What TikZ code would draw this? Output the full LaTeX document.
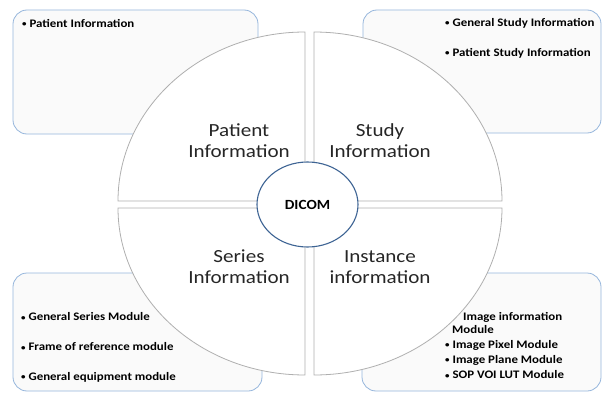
\documentclass[tikz,border=0pt]{standalone}
\usepackage{fontspec}
\setmainfont{Carlito}
\newfontfamily\quadfont[FakeStretch=1.14]{Carlito}
\newfontfamily\boxfont[FakeStretch=1.12]{Carlito}
\newfontfamily\hubfont[FakeStretch=1.09]{Carlito}
\usetikzlibrary{shapes.geometric}
\definecolor{boxline}{RGB}{150,182,220}
\definecolor{hubline}{RGB}{62,100,148}
\definecolor{quadline}{RGB}{175,175,175}
\newcommand{\mybul}{\raisebox{0.9pt}{\fontsize{8}{8}\selectfont\textbullet}\ }
\begin{document}
\begin{tikzpicture}[x=1pt,y=1pt,
  infobox/.style={draw=boxline, line width=0.8pt, rounded corners=14pt, fill=black!2},
  quad/.style={draw=quadline, line width=0.8pt, fill=white},
  quadtext/.style={font=\quadfont\fontsize{18.5}{21}\selectfont, text=black!85, align=center},
  boxtext/.style={font=\boxfont\fontsize{11.5}{13}\selectfont\bfseries, anchor=west, inner sep=0pt},
  hub/.style={draw=hubline, line width=1.1pt, fill=white, ellipse, minimum width=101pt, minimum height=85pt, inner sep=0pt}
]
\useasboundingbox (0,0) rectangle (603,392);
\clip (0,0) rectangle (603,392);
% boxes
\path[infobox] (13,258) rectangle (258,382);
\path[infobox] (363,259) rectangle (601,382);
\path[infobox] (13,1) rectangle (262,119);
\path[infobox] (362,1) rectangle (601,119);
% quadrants
\path[quad] (305,191) -- (118,191) arc[start angle=180, end angle=90, x radius=187, y radius=169] -- cycle;
\path[quad] (314,191) -- (314,360) arc[start angle=90, end angle=0, x radius=188, y radius=169] -- cycle;
\path[quad] (305,184) -- (305,17) arc[start angle=270, end angle=180, x radius=187, y radius=167] -- cycle;
\path[quad] (314,184) -- (502,184) arc[start angle=0, end angle=-90, x radius=188, y radius=167] -- cycle;
% quadrant labels
\node[quadtext] (qpat) at (239,251) {Patient\\Information};
\node[quadtext] (qstu) at (380,251) {Study\\Information};
\node[quadtext] (qser) at (239,125) {Series\\Information};
\node[quadtext] (qins) at (380,125) {Instance\\information};
% hub
\node[hub] (dicom) at (307.5,187.5) {\hubfont\fontsize{14}{16}\selectfont\bfseries DICOM};
% box texts
\node[boxtext] (t1) at (22,369) {\mybul Patient Information};
\node[boxtext] (t2) at (445,369) {\mybul General Study Information};
\node[boxtext] (t3) at (445,339) {\mybul Patient Study Information};
\node[boxtext] (t4) at (21,75) {\mybul General Series Module};
\node[boxtext] (t5) at (21,45) {\mybul Frame of reference module};
\node[boxtext] (t6) at (21,15) {\mybul General equipment module};
\node[boxtext] (t7) at (463,75) {Image information};
\node[boxtext] (t8) at (452,62) {Module};
\node[boxtext] (t9) at (445,47) {\mybul Image Pixel Module};
\node[boxtext] (t10) at (445,32) {\mybul Image Plane Module};
\node[boxtext] (t11) at (445,17) {\mybul SOP VOI LUT Module};
\end{tikzpicture}
\end{document}
